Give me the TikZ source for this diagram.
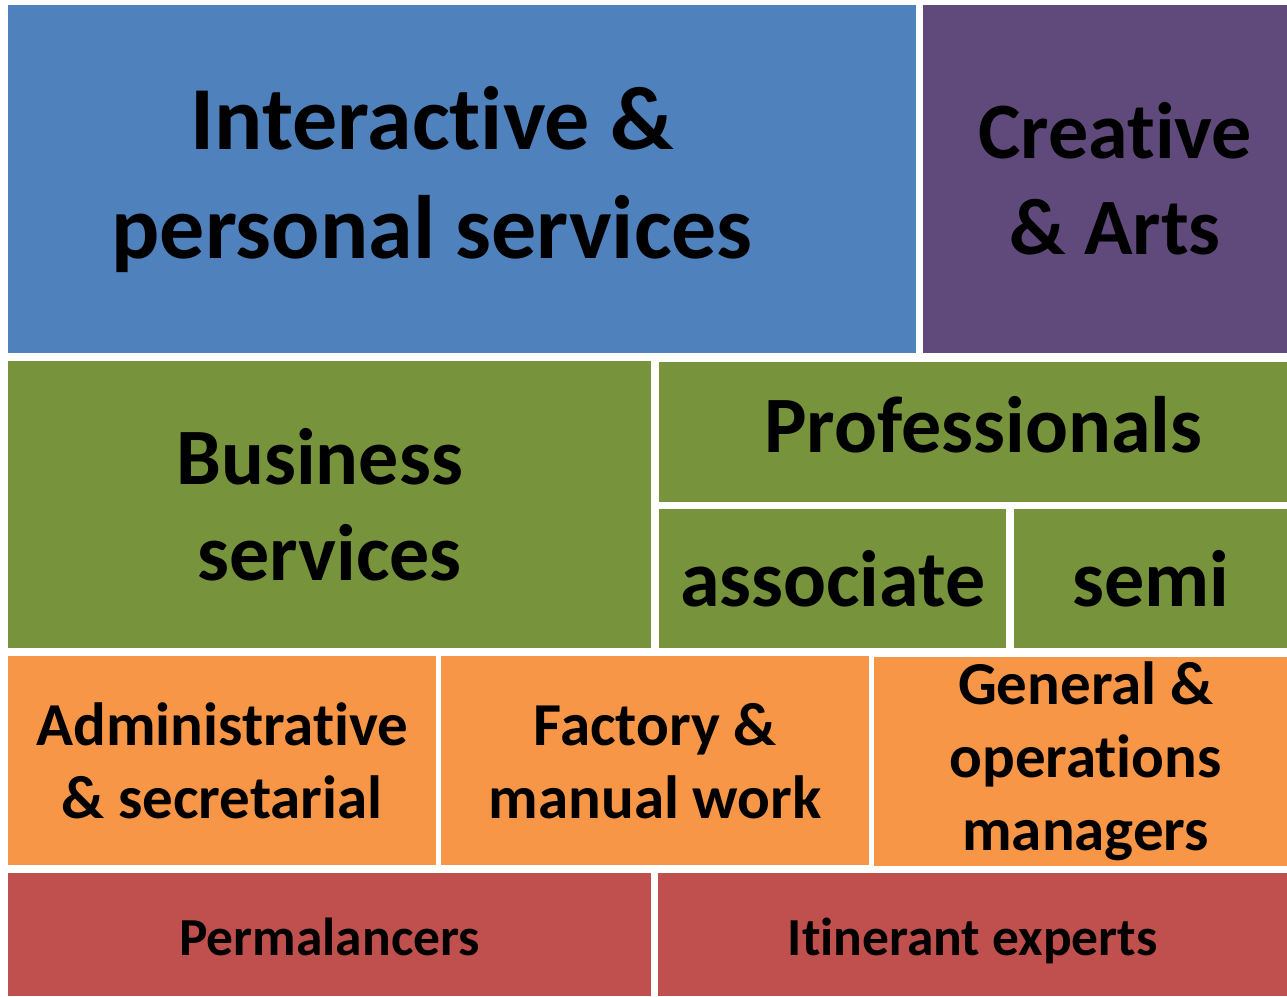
\documentclass[tikz,border=0pt]{standalone}
\usepackage{fontspec}
\setmainfont{Carlito}[Ligatures={NoCommon,NoContextual}, Contextuals=NoAlternate]
\definecolor{tileblue}{HTML}{4F81BD}
\definecolor{tilepurple}{HTML}{604A7B}
\definecolor{tilegreen}{HTML}{77933C}
\definecolor{tileorange}{HTML}{F79646}
\definecolor{tilered}{HTML}{C0504D}

\begin{document}
\begin{tikzpicture}[x=1pt, y=-1pt]
  \tikzset{tile/.style={anchor=north west, inner sep=0pt, align=center, text=black},
           huge/.style={font=\bfseries\fontsize{90}{109}\selectfont},
           big/.style={font=\bfseries\fontsize{80}{96}\selectfont},
           mid/.style={font=\bfseries\fontsize{61}{73}\selectfont},
           small/.style={font=\bfseries\fontsize{53.5}{64}\selectfont, text height=41pt, text depth=0pt}}
  \useasboundingbox[fill=white] (0,0) rectangle (1287,996);
  % top row
  \node[tile, huge, fill=tileblue, minimum width=908pt, minimum height=348pt] (interactive) at (8,5)
       {Interactive \&\hspace*{60pt}\\personal services\hspace*{60pt}};
  \node[tile, big, fill=tilepurple, minimum width=364pt, minimum height=348pt] (creative) at (923,5)
       {\hspace*{20pt}Creative\\\hspace*{20pt}\& Arts};
  % green block
  \node[tile, big, fill=tilegreen, minimum width=643pt, minimum height=287pt] (business) at (8,361)
       {Business\hspace*{20pt}\\services};
  \node[tile, big, fill=tilegreen, minimum width=628pt, minimum height=140pt,
        text height=40pt, text depth=0pt] (professionals) at (659,362)
       {\hspace*{20pt}Professionals};
  \node[tile, big, fill=tilegreen, minimum width=347pt, minimum height=139pt] (associate) at (659,509)
       {associate};
  \node[tile, big, fill=tilegreen, minimum width=273pt, minimum height=139pt] (semi) at (1014,509)
       {semi};
  % orange row
  \node[tile, mid, fill=tileorange, minimum width=428pt, minimum height=209pt] (admin) at (8,656)
       {Administrative\\\& secretarial};
  \node[tile, mid, fill=tileorange, minimum width=428pt, minimum height=209pt] (factory) at (441,656)
       {Factory \&\\manual work};
  \node[tile, mid, fill=tileorange, minimum width=413pt, minimum height=209pt] (general) at (874,657)
       {\hspace*{10pt}General \&\\\hspace*{10pt}operations\\\hspace*{10pt}managers};
  % red row
  \node[tile, small, fill=tilered, minimum width=643pt, minimum height=123pt] (perma) at (8,873)
       {Permalancers};
  \node[tile, small, fill=tilered, minimum width=629pt, minimum height=123pt] (itinerant) at (658,873)
       {Itinerant experts};
\end{tikzpicture}
\end{document}
